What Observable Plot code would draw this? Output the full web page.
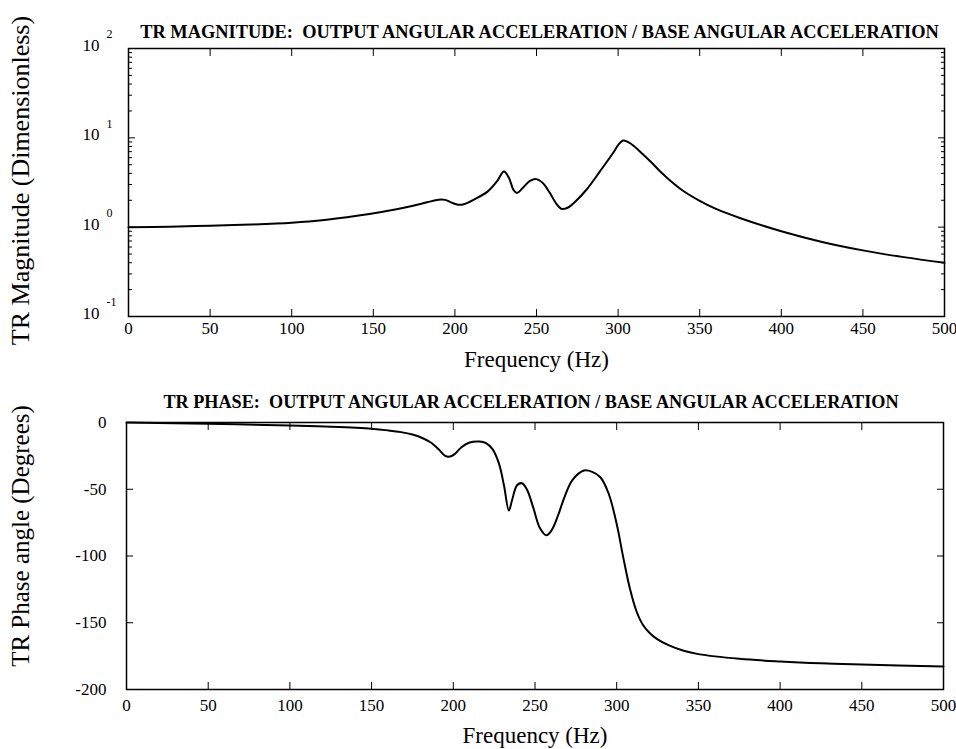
<!DOCTYPE html>
<html><head><meta charset="utf-8">
<script src="https://cdn.jsdelivr.net/npm/d3@7"></script>
<script src="https://cdn.jsdelivr.net/npm/@observablehq/plot@0.6"></script>
<style>
body{margin:0;background:#fff;}
#chart{width:956px;height:749px;position:relative;font-family:"Liberation Serif",serif;background:#fff;overflow:hidden;}
#chart svg{display:block;overflow:visible;}
</style></head><body><div id="chart"></div>
<script>
// ---- data ----
const magFreq  = [0, 25, 50, 75, 100, 120, 140, 155, 165, 175, 183, 190, 194, 198, 202, 206, 212, 220, 226, 230, 233, 236, 238, 242, 246, 250, 254, 258, 262, 265.5, 269, 274, 280.7, 289, 297, 300, 303, 306, 310, 315, 320, 326, 332, 340, 350, 360, 375, 400, 425, 450, 475, 500];
const magValue = [1.00, 1.01, 1.04, 1.07, 1.12, 1.2, 1.34, 1.48, 1.6, 1.75, 1.9, 2.03, 2.02, 1.88, 1.78, 1.82, 2.05, 2.5, 3.3, 4.2, 3.6, 2.6, 2.42, 2.8, 3.3, 3.45, 3.1, 2.45, 1.85, 1.6, 1.65, 1.95, 2.64, 4.24, 6.8, 8.3, 9.35, 9.0, 8.0, 6.6, 5.4, 4.17, 3.31, 2.54, 1.97, 1.6, 1.26, 0.90, 0.684, 0.55, 0.462, 0.40];

const phaseFreq  = [0, 50, 100, 125, 150, 160, 168, 175, 181, 186, 191, 195, 198, 201, 205, 210, 216, 220, 224, 228, 231, 234, 236, 239, 242, 245, 249, 253, 257, 260, 264, 268, 273, 280, 285, 290, 295, 300, 304, 308, 312, 316, 320, 325, 332, 341, 350, 375, 400, 425, 450, 500];
const phaseValue = [0, -1, -2.2, -3.2, -4.7, -5.9, -7.2, -9.0, -11.6, -14.8, -20, -25, -25.5, -23.5, -18.5, -15, -14.3, -15.5, -20, -31, -47, -66, -58, -47, -45.5, -50, -64, -79, -84.5, -81, -70, -56, -43, -36, -37, -41, -53, -76, -101, -124, -141, -151.5, -157.5, -162.5, -167, -171, -173.5, -177, -179.0, -180.4, -181.3, -182.7];

const xTickLabels = [0, 50, 100, 150, 200, 250, 300, 350, 400, 450, 500];
const xInnerTicks = [50, 100, 150, 200, 250, 300, 350, 400, 450];
const magMajorTicks = [0.1, 1, 10, 100];
const magExponents = ["-1", "0", "1", "2"];
const magMinorTicks = [0.2, 0.3, 0.4, 0.5, 0.6, 0.7, 0.8, 0.9, 2, 3, 4, 5, 6, 7, 8, 9, 20, 30, 40, 50, 60, 70, 80, 90];
const phaseTicks = [0, -50, -100, -150, -200];
const phaseInnerTicks = [-50, -100, -150];

const magTitle = "TR MAGNITUDE:\u00a0 OUTPUT ANGULAR ACCELERATION / BASE ANGULAR ACCELERATION";
const phaseTitle = "TR PHASE:\u00a0 OUTPUT ANGULAR ACCELERATION / BASE ANGULAR ACCELERATION";
const xLabel = "Frequency (Hz)";
const magYLabel = "TR Magnitude (Dimensionless)";
const phaseYLabel = "TR Phase angle (Degrees)";

// ---- build ----
const FONT = "'Liberation Serif', 'Times New Roman', serif";
const magData = magFreq.map((f, i) => ({f, v: magValue[i]}));
const phaseData = phaseFreq.map((f, i) => ({f, v: phaseValue[i]}));
const style = {fontFamily: FONT, fontSize: "17px", color: "black", background: "white", overflow: "visible"};
const blank = () => "";
const plain = d => String(d);

const magPlot = Plot.plot({
  width: 956, height: 376,
  marginTop: 48, marginBottom: 60, marginLeft: 128, marginRight: 12,
  style,
  x: {domain: [0, 500]},
  y: {type: "log", domain: [0.1, 100]},
  marks: [
    Plot.axisX({ticks: xTickLabels, anchor: "bottom", tickSize: -7, tickPadding: 12, tickFormat: plain, label: null, fontSize: 17, fontFamily: FONT}),
    Plot.axisX({ticks: xInnerTicks, anchor: "top", tickSize: -7, tickFormat: blank, label: null}),
    Plot.axisY({ticks: magMajorTicks, anchor: "left", tickSize: -7, tickFormat: blank, label: null}),
    Plot.axisY({ticks: magMinorTicks, anchor: "left", tickSize: -4, tickFormat: blank, label: null}),
    Plot.axisY({ticks: magMajorTicks, anchor: "right", tickSize: -7, tickFormat: blank, label: null}),
    Plot.axisY({ticks: magMinorTicks, anchor: "right", tickSize: -4, tickFormat: blank, label: null}),
    Plot.text(magMajorTicks, {y: d => d, text: () => "10", frameAnchor: "left", textAnchor: "end", dx: -29, dy: -3, fontSize: 17, fontFamily: FONT}),
    Plot.text(magMajorTicks, {y: d => d, text: (d, i) => magExponents[i], frameAnchor: "left", textAnchor: "start", dx: -22, dy: -14, fontSize: 12, fontFamily: FONT}),
    Plot.frame({stroke: "black", strokeWidth: 1.5}),
    Plot.line(magData, {x: "f", y: "v", curve: "catmull-rom", stroke: "black", strokeWidth: 2}),
    Plot.text([magTitle], {text: d => d, frameAnchor: "top", lineAnchor: "bottom", dy: -11, dx: 3, fontSize: 18.4, fontWeight: "bold", fontFamily: FONT}),
    Plot.text([xLabel], {text: d => d, frameAnchor: "bottom", lineAnchor: "bottom", dy: 50, fontSize: 23, fontFamily: FONT}),
    Plot.text([magYLabel], {text: d => d, frameAnchor: "left", textAnchor: "middle", rotate: -90, dx: -108, dy: -2, fontSize: 26, fontFamily: FONT})
  ]
});

const phasePlot = Plot.plot({
  width: 956, height: 373,
  marginTop: 46, marginBottom: 60, marginLeft: 126, marginRight: 13,
  style,
  x: {domain: [0, 500]},
  y: {domain: [-200, 0]},
  marks: [
    Plot.axisX({ticks: xTickLabels, anchor: "bottom", tickSize: -7, tickPadding: 16, tickFormat: plain, label: null, fontSize: 17, fontFamily: FONT}),
    Plot.axisX({ticks: xInnerTicks, anchor: "top", tickSize: -7, tickFormat: blank, label: null}),
    Plot.axisY({ticks: phaseTicks, anchor: "left", tickSize: 0, tickPadding: 20, tickFormat: plain, label: null, fontSize: 17, fontFamily: FONT}),
    Plot.axisY({ticks: phaseInnerTicks, anchor: "left", tickSize: -7, tickFormat: blank, label: null}),
    Plot.axisY({ticks: phaseInnerTicks, anchor: "right", tickSize: -7, tickFormat: blank, label: null}),
    Plot.frame({stroke: "black", strokeWidth: 1.5}),
    Plot.line(phaseData, {x: "f", y: "v", curve: "catmull-rom", stroke: "black", strokeWidth: 2}),
    Plot.text([phaseTitle], {text: d => d, frameAnchor: "top", lineAnchor: "bottom", dy: -15, dx: -4, fontSize: 18.2, fontWeight: "bold", fontFamily: FONT}),
    Plot.text([xLabel], {text: d => d, frameAnchor: "bottom", lineAnchor: "bottom", dy: 53, fontSize: 23, fontFamily: FONT}),
    Plot.text([phaseYLabel], {text: d => d, frameAnchor: "left", textAnchor: "middle", rotate: -90, dx: -106, dy: -20, fontSize: 25, fontFamily: FONT})
  ]
});

const chart = document.getElementById("chart");
chart.appendChild(magPlot);
chart.appendChild(phasePlot);
</script>
</body></html>
